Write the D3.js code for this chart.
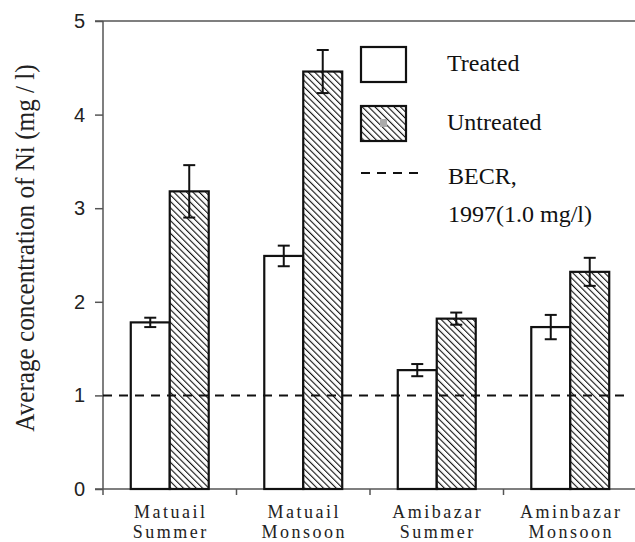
<!doctype html>
<html>
<head>
<meta charset="utf-8"/>
<script src="https://d3js.org/d3.v7.min.js"></script>
</head>
<body style="margin:0;background:#fff;">
<script>
(function(){
var sites=[["Matuail","Summer"],["Matuail","Monsoon"],["Amibazar","Summer"],["Aminbazar","Monsoon"]];
var groups=["Treated","Untreated"];
var treated=[1.78,2.49,1.27,1.73];
var treatedErr=[0.05,0.11,0.065,0.13];
var untreated=[3.18,4.46,1.82,2.32];
var untreatedErr=[0.28,0.23,0.065,0.15];
var yTicks=[0,1,2,3,4,5];
var becr=1.0;
var legendText=[["Treated",71],["Untreated",130],["BECR,",184],["1997(1.0 mg/l)",222]];

var W=635,H=542;
var svg=d3.select("body").append("svg").attr("width",W).attr("height",H)
	.attr("font-family","Liberation Serif");

var xb=d3.scaleBand().domain(d3.range(sites.length)).range([103,637]).paddingInner(0.416).paddingOuter(0.208);
var xs=d3.scaleBand().domain(groups).range([0,xb.bandwidth()]);
var yl=d3.scaleLinear().domain([0,5]).range([489,21]);

// texts first (serif)
var lg=svg.append("g");
lg.selectAll("text").data(legendText).enter().append("text")
	.attr("font-family","Liberation Serif")
	.attr("x",function(d,i){return i<2?447:448;}).attr("y",function(d){return d[1];})
	.attr("font-size",24).attr("fill","#111")
	.text(function(d){return d[0];});

var xl=svg.append("g").selectAll("text").data(sites).enter().append("text")
	.attr("font-family","Liberation Serif")
	.attr("text-anchor","middle")
	.attr("font-size",18).attr("letter-spacing","2.5px").attr("fill","#222");
xl.append("tspan").attr("x",function(d,i){return xb(i)+xb.bandwidth()/2+1;}).attr("y",518).text(function(d){return d[0];});
xl.append("tspan").attr("x",function(d,i){return xb(i)+xb.bandwidth()/2+1;}).attr("y",538).text(function(d){return d[1];});

svg.append("text").attr("font-family","Liberation Serif")
	.attr("transform","translate(34,248) rotate(-90) scale(0.9,1)")
	.attr("text-anchor","middle")
	.attr("font-size",28).attr("fill","#222")
	.text("Average concentration of Ni  (mg / l)");

var defs=svg.append("defs");
var pat=defs.append("pattern").attr("id","hatch").attr("patternUnits","userSpaceOnUse")
	.attr("width",4.5).attr("height",4.5).attr("patternTransform","rotate(-45)");
pat.append("rect").attr("width",4.5).attr("height",4.5).attr("fill","#fff");
pat.append("line").attr("x1",0).attr("y1",0).attr("x2",0).attr("y2",4.5)
	.attr("stroke","#111").attr("stroke-width",2.2);

var bars=[];
for(var i=0;i<sites.length;i++){
	bars.push({i:i,g:"Treated",v:treated[i],e:treatedErr[i]});
	bars.push({i:i,g:"Untreated",v:untreated[i],e:untreatedErr[i]});
}

// y axis
var yAxis=svg.append("g").attr("transform","translate(103,0)")
	.call(d3.axisLeft(yl).tickValues(yTicks).tickSize(8).tickPadding(10).tickFormat(d3.format("d")));
yAxis.attr("font-family",null).attr("font-size",null);
yAxis.select(".domain").remove();
yAxis.selectAll("line").attr("stroke","#555").attr("stroke-width",1.5);
yAxis.selectAll("text").attr("font-family","Liberation Sans").attr("font-size",20).attr("fill","#222");
svg.append("line").attr("x1",103).attr("x2",103).attr("y1",yl(5)).attr("y2",495).attr("stroke","#555").attr("stroke-width",1.5);
svg.append("line").attr("x1",95).attr("x2",635).attr("y1",yl(5)).attr("y2",yl(5)).attr("stroke","#555").attr("stroke-width",1.5);
svg.append("line").attr("x1",95).attr("x2",635).attr("y1",yl(0)).attr("y2",yl(0)).attr("stroke","#555").attr("stroke-width",1.5);

// category separator ticks
svg.append("g").selectAll("line").data(d3.range(1,sites.length)).enter().append("line")
	.attr("x1",function(d){return xb(d)-xb.step()*0.208;}).attr("x2",function(d){return xb(d)-xb.step()*0.208;})
	.attr("y1",yl(0)).attr("y2",yl(0)+6).attr("stroke","#555").attr("stroke-width",1.5);

// bars
svg.append("g").selectAll("rect").data(bars).enter().append("rect")
	.attr("x",function(d){return xb(d.i)+xs(d.g);})
	.attr("y",function(d){return yl(d.v);})
	.attr("width",xs.bandwidth())
	.attr("height",function(d){return yl(0)-yl(d.v);})
	.attr("fill",function(d){return d.g=="Treated"?"#fff":"url(#hatch)";})
	.attr("stroke","#111").attr("stroke-width",2.2);

// error bars
var eb=svg.append("g").selectAll("g").data(bars).enter().append("g");
eb.append("line")
	.attr("x1",function(d){return xb(d.i)+xs(d.g)+xs.bandwidth()/2;})
	.attr("x2",function(d){return xb(d.i)+xs(d.g)+xs.bandwidth()/2;})
	.attr("y1",function(d){return yl(d.v+d.e);})
	.attr("y2",function(d){return yl(d.v-d.e);})
	.attr("stroke","#111").attr("stroke-width",2);
[1,-1].forEach(function(s){
	eb.append("line")
		.attr("x1",function(d){return xb(d.i)+xs(d.g)+xs.bandwidth()/2-6;})
		.attr("x2",function(d){return xb(d.i)+xs(d.g)+xs.bandwidth()/2+6;})
		.attr("y1",function(d){return yl(d.v+s*d.e);})
		.attr("y2",function(d){return yl(d.v+s*d.e);})
		.attr("stroke","#111").attr("stroke-width",2);
});

// BECR line
svg.append("line").attr("x1",103).attr("x2",628).attr("y1",yl(becr)).attr("y2",yl(becr))
	.attr("stroke","#111").attr("stroke-width",2).attr("stroke-dasharray","9,7");

// legend marks
lg.append("rect").attr("x",361).attr("y",47).attr("width",45).attr("height",35).attr("fill","#fff").attr("stroke","#111").attr("stroke-width",2.2);
lg.append("rect").attr("x",361).attr("y",106).attr("width",45).attr("height",35).attr("fill","url(#hatch)").attr("stroke","#111").attr("stroke-width",2.2);
lg.append("rect").attr("x",380).attr("y",119).attr("width",7).attr("height",8).attr("fill","#aaa");
lg.append("line").attr("x1",361).attr("x2",418).attr("y1",173).attr("y2",173)
	.attr("stroke","#111").attr("stroke-width",2).attr("stroke-dasharray","9,7");
})();
</script>
</body>
</html>
